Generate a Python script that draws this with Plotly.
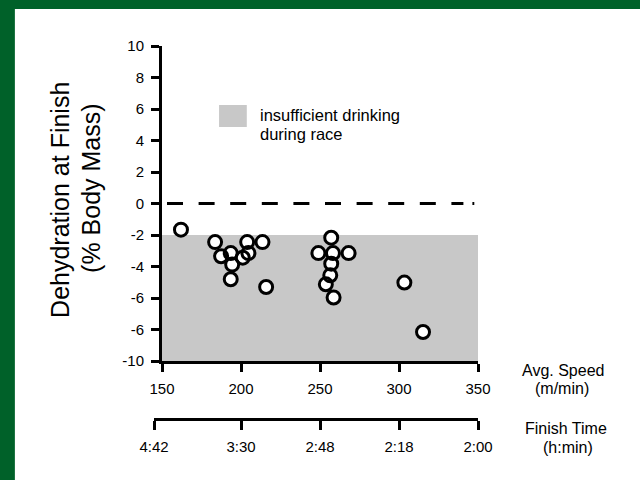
import plotly.graph_objects as go

# ---- data ----
speed = [162.0, 183.6, 187.4, 193.5, 194.4, 193.5, 203.9, 204.7, 201.1, 213.6, 215.9,
         257.1, 249.0, 258.2, 268.1, 257.1, 256.5, 253.7, 258.6, 303.4, 315.2]
dehydration = [-1.66, -2.45, -3.35, -3.15, -3.88, -4.81, -2.45, -3.15, -3.44, -2.45, -5.30,
               -2.17, -3.15, -3.15, -3.15, -3.82, -4.56, -5.13, -5.97, -5.02, -8.16]

speed_ticks = [150, 200, 250, 300, 350]
y_tickvals = [-10, -8, -6, -4, -2, 0, 2, 4, 6, 8, 10]
y_ticktext = ["-10", "-6", "-6", "-4", "-2", "0", "2", "4", "6", "8", "10"]
time_tick_speeds = [145, 200, 250, 300, 350]
time_ticktext = ["4:42", "3:30", "2:48", "2:18", "2:00"]
shade_x = [150, 350]
shade_y = [-10, -2]
ref_line_y = 0

# ---- geometry helpers (pixels -> paper) ----
W, H = 640, 480
L, R, T, B = 150, 162.3, 46, 61
PW, PH = W - L - R, H - T - B
def xp(px):
    return (px - L) / PW
def yp(py):
    return (H - B - py) / PH

FONT = "Liberation Sans, Arial, Helvetica, sans-serif"
GREEN = "#006129"
GREY = "#C8C8C8"

fig = go.Figure()
# white interiors
fig.add_trace(go.Scatter(x=speed, y=dehydration, mode="markers",
                         marker=dict(symbol="circle", size=15, color="white", line=dict(width=0)),
                         showlegend=False, hoverinfo="skip"))
# outlines
fig.add_trace(go.Scatter(x=speed, y=dehydration, mode="markers",
                         marker=dict(symbol="circle-open", size=13, color="black", line=dict(width=3)),
                         showlegend=False))
# dummy trace for the finish-time axis
fig.add_trace(go.Scatter(x=[None], y=[None], xaxis="x2", yaxis="y",
                         showlegend=False, hoverinfo="skip"))

scale = (477.7 - 162) / (speed_ticks[-1] - speed_ticks[0])
x2_start_px = 477.7 - (time_tick_speeds[-1] - time_tick_speeds[0]) * scale

axis_common = dict(showline=True, linecolor="black", linewidth=3, ticks="outside",
                   tickwidth=3, tickcolor="black", showgrid=False, zeroline=False,
                   tickfont=dict(family=FONT, size=15, color="black"))

fig.update_layout(
    width=W, height=H,
    margin=dict(l=L, r=R, t=T, b=B, pad=0),
    paper_bgcolor="white", plot_bgcolor="rgba(0,0,0,0)",
    showlegend=False,
    font=dict(family=FONT, color="black"),
    xaxis=dict(domain=[xp(162), 1], range=[speed_ticks[0], speed_ticks[-1]],
               tickvals=speed_ticks, ticklen=8, anchor="y", ticklabelstandoff=4,
               **axis_common),
    yaxis=dict(domain=[yp(361), 1], range=[-10, 10], tickvals=y_tickvals,
               ticktext=y_ticktext, ticklen=8, anchor="x", ticklabelstandoff=4,
               **axis_common),
    xaxis2=dict(domain=[xp(x2_start_px), 1],
                range=[time_tick_speeds[0], time_tick_speeds[-1]],
                tickvals=time_tick_speeds, ticktext=time_ticktext, ticklen=9,
                anchor="free", position=0, side="bottom", ticklabelstandoff=4,
                **axis_common),
)

shapes = [
    dict(type="rect", xref="x", yref="y", x0=shade_x[0], x1=shade_x[1],
         y0=shade_y[0], y1=shade_y[1], fillcolor=GREY, line=dict(width=0), layer="below"),
    dict(type="line", xref="paper", yref="y", x0=xp(153), x1=xp(474),
         y0=ref_line_y, y1=ref_line_y,
         line=dict(color="black", width=3,
                   dash="2px,12px," + "16px,15.6px," * 9 + "12px,9px,3px,60px")),
    # legend swatch
    dict(type="rect", xref="paper", yref="paper", x0=xp(219), x1=xp(246.7),
         y0=yp(127), y1=yp(105), fillcolor=GREY, line=dict(width=0)),
    # green frame
    dict(type="rect", xref="paper", yref="paper", x0=xp(0), x1=xp(15),
         y0=yp(H), y1=yp(0), fillcolor=GREEN, line=dict(width=0)),
    dict(type="rect", xref="paper", yref="paper", x0=xp(0), x1=xp(W),
         y0=yp(9), y1=yp(0), fillcolor=GREEN, line=dict(width=0)),
]
fig.update_layout(shapes=shapes)

def ann(text, px, py, size, xanchor="center", angle=0):
    return dict(text=text, xref="paper", yref="paper", x=xp(px), y=yp(py),
                xanchor=xanchor, yanchor="middle", showarrow=False, textangle=angle,
                font=dict(family=FONT, size=size, color="black"))

annotations = [
    ann("insufficient drinking", 258, 115, 16.5, xanchor="left"),
    ann("during race", 258, 133.5, 16.5, xanchor="left"),
    ann("Avg. Speed", 563, 370, 16),
    ann("(m/min)", 562, 388.5, 16),
    ann("Finish Time", 566, 428.5, 16),
    ann("(h:min)", 568, 447, 16),
    ann("Dehydration at Finish", 60, 200, 25, angle=-90),
    ann("(% Body Mass)", 91, 188, 25, angle=-90),
]
fig.update_layout(annotations=annotations)

fig.write_html("out.html")
